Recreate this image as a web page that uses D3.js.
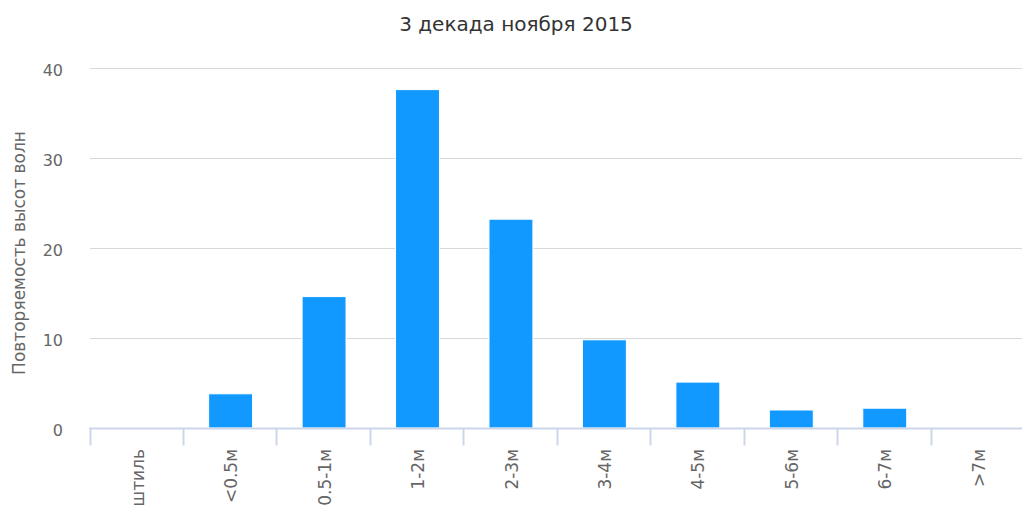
<!DOCTYPE html>
<html>
<head>
<meta charset="utf-8">
<script src="https://cdn.jsdelivr.net/npm/d3@7"></script>
<style>
  body { margin: 0; background: #fff; }
  svg { font-family: "DejaVu Sans", Verdana, sans-serif; }
</style>
</head>
<body>
<div id="chart"></div>
<script>
// data
const categories = ["штиль", "<0.5м", "0.5-1м", "1-2м", "2-3м", "3-4м", "4-5м", "5-6м", "6-7м", ">7м"];
const values = [0, 3.8, 14.6, 37.6, 23.2, 9.8, 5.1, 2.0, 2.2, 0];
const yTicks = [0, 10, 20, 30, 40];
const titleText = "3 декада ноября 2015";
const yLabel = "Повторяемость высот волн";

const width = 1022, height = 507;
const margin = {top: 68, bottom: 79, left: 89.5};

const svg = d3.select("#chart").append("svg")
    .attr("width", width)
    .attr("height", height);

// plot runs a little past the right edge in the original
const x = d3.scaleBand()
    .domain(categories)
    .range([margin.left, 1024]);

const barOffset = 0.275, barShare = 0.47;

const y = d3.scaleLinear()
    .domain([0, 40])
    .range([height - margin.bottom, margin.top]);

// grid
svg.append("g")
    .selectAll("line")
    .data(yTicks.filter(d => d > 0))
    .enter().append("line")
    .attr("x1", 90)
    .attr("x2", width)
    .attr("y1", d => Math.round(y(d)) + 0.5)
    .attr("y2", d => Math.round(y(d)) + 0.5)
    .attr("stroke", "#d8d8d8")
    .attr("stroke-width", 1);

// y labels
svg.append("g")
    .selectAll("text")
    .data(yTicks)
    .enter().append("text")
    .attr("x", 63)
    .attr("y", d => y(d) + 7.6)
    .attr("text-anchor", "end")
    .attr("fill", "#666")
    .style("font-size", "16px")
    .text(d => d);

// bars
svg.append("g")
    .selectAll("rect")
    .data(values)
    .enter().append("rect")
    .attr("x", (d, i) => x(categories[i]) + x.bandwidth() * barOffset)
    .attr("width", x.bandwidth() * barShare)
    .attr("y", d => y(d))
    .attr("height", d => y(0) - y(d))
    .attr("fill", "#1199ff")
    .attr("stroke", "#fff")
    .attr("stroke-width", d => d > 0 ? 1 : 0);

// x axis
const axisY = Math.round(y(0)) + 0.5;
const gx = svg.append("g");
gx.append("line")
    .attr("x1", 89)
    .attr("x2", width)
    .attr("y1", axisY)
    .attr("y2", axisY)
    .attr("stroke", "#ccd6eb")
    .attr("stroke-width", 2);

gx.selectAll("line.tick")
    .data(categories)
    .enter().append("line")
    .attr("class", "tick")
    .attr("x1", d => Math.round(x(d)) + 0.5)
    .attr("x2", d => Math.round(x(d)) + 0.5)
    .attr("y1", axisY)
    .attr("y2", axisY + 17)
    .attr("stroke", "#ccd6eb")
    .attr("stroke-width", 2);

gx.selectAll("text")
    .data(categories)
    .enter().append("text")
    .attr("transform", d => `translate(${x(d) + x.bandwidth() / 2 + 7.5}, 449) rotate(-90)`)
    .attr("text-anchor", "end")
    .attr("fill", "#666")
    .style("font-size", "17px")
    .text(d => d);

// title
svg.append("text")
    .attr("x", 516)
    .attr("y", 31)
    .attr("text-anchor", "middle")
    .attr("fill", "#333")
    .style("font-size", "20px")
    .text(titleText);

// y axis title
svg.append("text")
    .attr("transform", "translate(25, 253) rotate(-90)")
    .attr("text-anchor", "middle")
    .attr("fill", "#666")
    .style("font-size", "17px")
    .text(yLabel);
</script>
</body>
</html>
